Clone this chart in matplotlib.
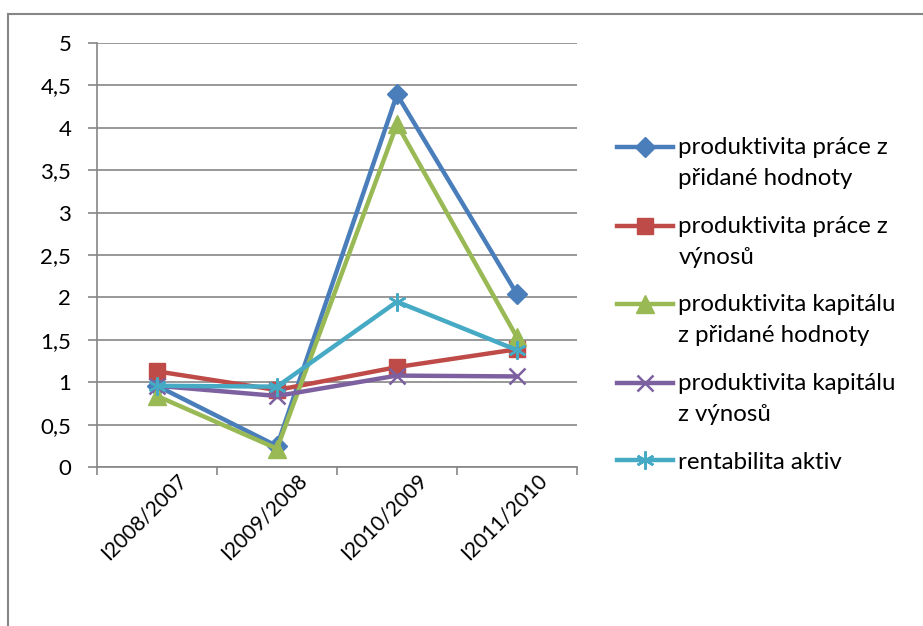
import matplotlib.pyplot as plt
import matplotlib.transforms as mtransforms
from matplotlib.lines import Line2D
from matplotlib.legend_handler import HandlerLine2D

plt.rcParams['font.family'] = ['Lato', 'DejaVu Sans']

periods = ["I2008/2007", "I2009/2008", "I2010/2009", "I2011/2010"]
prod_prace_ph = [0.96, 0.25, 4.39, 2.04]
prod_prace_vyn = [1.13, 0.91, 1.18, 1.39]
prod_kap_ph = [0.84, 0.22, 4.04, 1.53]
prod_kap_vyn = [0.96, 0.84, 1.08, 1.07]
rent_aktiv = [0.96, 0.95, 1.95, 1.38]

series = [
    ("produktivita práce z\npřidané hodnoty", prod_prace_ph, "#4A7EBB", "D", 10.5),
    ("produktivita práce z\nvýnosů", prod_prace_vyn, "#BE4B48", "s", 11),
    ("produktivita kapitálu\nz přidané hodnoty", prod_kap_ph, "#98B954", "^", 13),
    ("produktivita kapitálu\nz výnosů", prod_kap_vyn, "#7D60A0", "x", 12),
    ("rentabilita aktiv", rent_aktiv, "#46AAC5", (6, 2, 0), 13),
]

FS = 17.3
TICK_FS = 16


class FirstLineHandler(HandlerLine2D):
    # keeps the legend line level with the first row of a wrapped label
    def __init__(self, shift, **kw):
        super().__init__(**kw)
        self.shift = shift

    def create_artists(self, legend, orig_handle, xdescent, ydescent,
                       width, height, fontsize, trans):
        return super().create_artists(legend, orig_handle, xdescent,
                                      ydescent - 2 * self.shift, width, height,
                                      fontsize, trans)


fig = plt.figure(figsize=(9.23, 6.26), dpi=100)
ax = fig.add_axes([0.1051, 0.2535, 0.52, 0.6783])

x = list(range(len(periods)))
lines = []
for label, vals, col, mk, ms in series:
    ln, = ax.plot(x, vals, color=col, lw=3.2, marker=mk, markersize=ms,
                  markeredgecolor=col,
                  markeredgewidth=1.8 if mk in ("x", (6, 2, 0)) else 1,
                  label=label)
    lines.append(ln)

ax.set_xlim(-0.5, 3.5)
ax.set_ylim(0, 5)
ax.set_yticks([0, 0.5, 1, 1.5, 2, 2.5, 3, 3.5, 4, 4.5, 5])
ax.set_yticklabels(["0", "0,5", "1", "1,5", "2", "2,5", "3", "3,5", "4", "4,5", "5"])
ax.yaxis.grid(True, color="#868686", lw=1.2)
ax.set_axisbelow(True)

# category ticks sit between the categories
ax.set_xticks([-0.5, 0.5, 1.5, 2.5, 3.5])
ax.set_xticklabels([])
ax.set_xticks(x, minor=True)
ax.set_xticklabels(periods, minor=True, rotation=45, ha="right", va="center",
                   rotation_mode="anchor", fontsize=15)
ax.tick_params(axis="x", which="minor", length=0, pad=0)
shift = mtransforms.ScaledTranslation(0.27, -0.10, fig.dpi_scale_trans)
for lab in ax.get_xticklabels(minor=True):
    lab.set_transform(lab.get_transform() + shift)
ax.tick_params(axis="x", which="major", length=6, color="#868686", width=1.2)
ax.tick_params(axis="y", length=6.5, color="#868686", width=1.2, labelsize=TICK_FS, pad=12)

for side in ("top", "right"):
    ax.spines[side].set_visible(False)
for side in ("left", "bottom"):
    ax.spines[side].set_color("#868686")
    ax.spines[side].set_linewidth(1.2)

line_gap = 23.0  # points between the two rows of a wrapped label
hmap = {ln: FirstLineHandler(line_gap / 2 if "\n" in ln.get_label() else 0, numpoints=1)
        for ln in lines}
leg = ax.legend(handles=lines, handler_map=hmap, loc="upper left",
                bbox_to_anchor=(617 / 923, 1 - 137 / 626), bbox_transform=fig.transFigure,
                frameon=False, fontsize=FS, handlelength=2.35, handletextpad=0.2,
                labelspacing=1.1, borderaxespad=0, borderpad=0)
for t in leg.get_texts():
    t.set_linespacing(1.6)

# outer chart frame
fig.add_artist(Line2D([8 / 923, 8 / 923], [0, 1 - 14 / 626], transform=fig.transFigure,
                      color="#868686", lw=1.5))
fig.add_artist(Line2D([8 / 923, 1], [1 - 14 / 626, 1 - 14 / 626], transform=fig.transFigure,
                      color="#868686", lw=1.5))

fig.savefig("out.png", dpi=100)
